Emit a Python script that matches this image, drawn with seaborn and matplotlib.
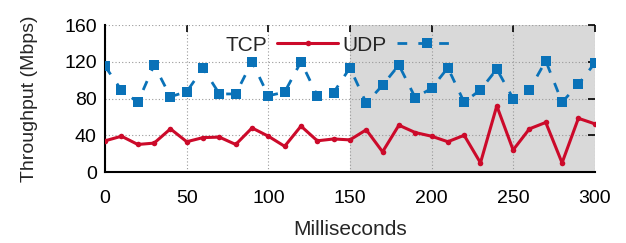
import matplotlib
matplotlib.use("Agg")
import matplotlib.pyplot as plt
import seaborn as sns
import pandas as pd

ms = list(range(0, 301, 10))
tcp = [34, 39, 30, 31.5, 47, 33, 37.5, 38, 30, 48, 39, 28, 50, 34, 36, 35,
       46, 22, 51, 43, 39, 33, 40, 10, 72, 24, 47, 54, 10, 58.5, 52.5]
udp = [115, 89, 76, 116.5, 82, 87.5, 113, 85, 85, 120, 83, 87, 120, 83, 86.5, 113.5,
       75, 94.5, 116.5, 81, 91, 113.5, 76, 89.5, 112, 80, 89.5, 121, 76, 95.5, 118.5]
shade_from = 150

sns.set_style("white")
plt.rcParams['font.family'] = ['Liberation Sans', 'DejaVu Sans']

df = pd.DataFrame({"ms": ms, "TCP": tcp, "UDP": udp})

fig, ax = plt.subplots(figsize=(6.26, 2.43), dpi=100)
fig.subplots_adjust(left=0.168, right=0.950, bottom=0.292, top=0.897)

red = '#cc0a2a'
blue = '#0a72b8'

ax.axvspan(shade_from, 300, color='#d9d9d9', zorder=0.2, lw=0)

sns.lineplot(data=df, x="ms", y="TCP", ax=ax, color=red, lw=2.2, marker='o',
             markersize=4, markeredgewidth=0, label="TCP", zorder=3)
sns.lineplot(data=df, x="ms", y="UDP", ax=ax, color=blue, lw=2, marker='s',
             markersize=6.5, markeredgewidth=0, label="UDP", zorder=3)
ax.lines[-1].set_dashes([3.5, 4])

ax.set_xlim(0, 300)
ax.set_ylim(0, 160)
ax.set_xticks(range(0, 301, 50))
ax.set_yticks(range(0, 161, 40))
ax.grid(True, color='#999999', linestyle=(0, (1, 2)), lw=0.8)
ax.set_axisbelow(True)

for s in ['top', 'right']:
    ax.spines[s].set_visible(False)
for s in ['left', 'bottom']:
    ax.spines[s].set_color('black')
    ax.spines[s].set_linewidth(1.5)
ax.tick_params(direction='in', length=5, width=1.2, top=True, right=True,
               labelsize=14, colors='black', pad=6)
ax.tick_params(axis='x', pad=13)

ax.set_xlabel("Milliseconds", fontsize=15, labelpad=9)
ax.set_ylabel("Throughput (Mbps)", fontsize=14, labelpad=19)

ax.legend(loc='center', bbox_to_anchor=(0.482, 0.864), ncol=2, frameon=False,
          markerfirst=False, fontsize=15, handlelength=2.9, handletextpad=0.5,
          columnspacing=0.2, borderaxespad=0)

fig.savefig("out.png", dpi=100)
